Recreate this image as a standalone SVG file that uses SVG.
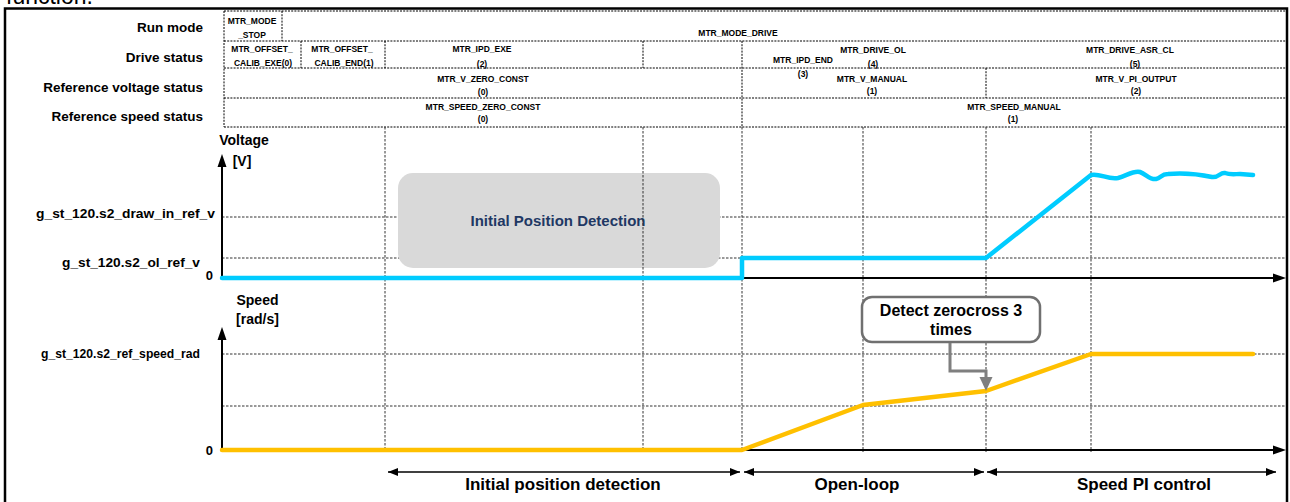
<svg xmlns="http://www.w3.org/2000/svg" width="1290" height="502" viewBox="0 0 1290 502">
<defs>
<style>
.txt{font-family:"Liberation Sans",Arial,sans-serif;font-weight:bold;fill:#000}
.cell{font-size:8.5px;text-anchor:middle}
.rowlbl{font-size:13.5px;text-anchor:end}
.axl{font-size:13px;text-anchor:end}
.unit{font-size:14px;text-anchor:middle}
.phase{font-size:17px;text-anchor:middle}
.tbl{fill:none;stroke:#000;stroke-width:1;stroke-dasharray:2 1.2}
.grid{fill:none;stroke:#333;stroke-width:1;stroke-dasharray:2.5 1.5}
.axis{fill:none;stroke:#000;stroke-width:2}
.dim{fill:none;stroke:#000;stroke-width:1.5}
</style>
<marker id="ah" viewBox="0 0 10 8" refX="10" refY="4" markerWidth="10" markerHeight="8" markerUnits="userSpaceOnUse" orient="auto-start-reverse">
<path d="M0,0L10,4L0,8Z" fill="#000"/>
</marker>
</defs>
<rect width="1290" height="502" fill="#fff"/>
<text x="6" y="3.5" font-family="Liberation Sans,Arial,sans-serif" font-size="23" fill="#000">function.</text>
<rect x="5" y="8.5" width="1282" height="510" fill="none" stroke="#000" stroke-width="2.5"/>

<g id="status-table">
<path class="tbl" d="M224,11H1286M224,41H1286M224,68H1286M224,98H1286M224,127H1286M224,11V127M282,11V41M301,41V68M385,41V68M643,41V68M742,41V127M986,68V98"/>
<g class="txt rowlbl">
<text x="203" y="32">Run mode</text>
<text x="203" y="62">Drive status</text>
<text x="203" y="92">Reference voltage status</text>
<text x="203" y="121">Reference speed status</text>
</g>
<g class="txt cell">
<text x="252" y="24">MTR_MODE</text>
<text x="252" y="37.5">_STOP</text>
<text x="738" y="35.5">MTR_MODE_DRIVE</text>
<text x="262" y="52">MTR_OFFSET_</text>
<text x="263" y="65.5">CALIB_EXE(0)</text>
<text x="342" y="52">MTR_OFFSET_</text>
<text x="344" y="65.5">CALIB_END(1)</text>
<text x="482" y="52">MTR_IPD_EXE</text>
<text x="482" y="66.5">(2)</text>
<text x="803" y="63">MTR_IPD_END</text>
<text x="803" y="77">(3)</text>
<text x="873" y="52.5">MTR_DRIVE_OL</text>
<text x="873" y="67">(4)</text>
<text x="1130" y="52.5">MTR_DRIVE_ASR_CL</text>
<text x="1135" y="67">(5)</text>
<text x="483" y="82">MTR_V_ZERO_CONST</text>
<text x="483" y="94.5">(0)</text>
<text x="872" y="82">MTR_V_MANUAL</text>
<text x="872" y="94">(1)</text>
<text x="1136" y="82">MTR_V_PI_OUTPUT</text>
<text x="1136" y="94">(2)</text>
<text x="483" y="110">MTR_SPEED_ZERO_CONST</text>
<text x="483" y="122">(0)</text>
<text x="1014" y="110">MTR_SPEED_MANUAL</text>
<text x="1013" y="122">(1)</text>
</g>
</g>

<g id="grid-horizontal">
<path class="grid" d="M222,217H1286M222,258H1286M222,354H1286M222,406H1286"/>
</g>

<g id="ipd-box">
<rect x="398" y="173" width="322" height="95" rx="15" fill="#d9d9d9"/>
<text class="txt" x="558" y="226" font-size="15" text-anchor="middle" style="fill:#1f3864">Initial Position Detection</text>
</g>

<g id="grid-vertical">
<path class="grid" d="M385,127V452M643,127V452M742,127V452M863,127V452M986,127V452M1091,127V452"/>
</g>

<g id="voltage-axes">
<path class="axis" d="M222,279V166M222,278H1274"/>
<path d="M222,154L217.5,167H226.5Z" fill="#000"/>
<path d="M1286,278L1273,273.5V282.5Z" fill="#000"/>
<text class="txt unit" x="244" y="145">Voltage</text>
<text class="txt unit" x="242" y="166">[V]</text>
<text class="txt axl" x="215" y="217.5" textLength="179" lengthAdjust="spacingAndGlyphs">g_st_120.s2_draw_in_ref_v</text>
<text class="txt axl" x="200" y="267" textLength="138" lengthAdjust="spacingAndGlyphs">g_st_120.s2_ol_ref_v</text>
<text class="txt axl" x="213" y="280">0</text>
</g>

<g id="speed-axes">
<path class="axis" d="M222,451V339M222,450H1274"/>
<path d="M222,327L217.5,340H226.5Z" fill="#000"/>
<path d="M1286,450L1273,445.5V454.5Z" fill="#000"/>
<text class="txt unit" x="257.5" y="305">Speed</text>
<text class="txt unit" x="257.5" y="324">[rad/s]</text>
<text class="txt axl" x="200" y="358" textLength="159" lengthAdjust="spacingAndGlyphs">g_st_120.s2_ref_speed_rad</text>
<text class="txt axl" x="213" y="455">0</text>
</g>

<g id="voltage-curve">
<path d="M222,278H742V258H986L1091,175C1100,173 1108,180 1118,178C1126,176 1134,170 1140,172C1146,174 1150,180 1156,179C1161,178 1161,174 1168,174C1180,173 1198,174 1212,177C1219,178 1220,172 1225,173C1230,175 1235,174 1240,174L1253,175" fill="none" stroke="#00ccff" stroke-width="4.5" stroke-linejoin="round" stroke-linecap="round"/>
</g>

<g id="speed-curve">
<polyline points="222,450 742,450 863,405 986,391 1091,354 1253,354" fill="none" stroke="#ffc000" stroke-width="4.5" stroke-linejoin="round" stroke-linecap="round"/>
</g>

<g id="zerocross-callout">
<rect x="862" y="297" width="178" height="45" rx="10" fill="#fff" stroke="#707070" stroke-width="2.5"/>
<text class="txt" x="951" y="315.5" font-size="16" text-anchor="middle">Detect zerocross 3</text>
<text class="txt" x="951" y="335" font-size="16" text-anchor="middle">times</text>
</g>

<g id="connectors">
<path d="M950,343V371H986V378" fill="none" stroke="#7f7f7f" stroke-width="3"/>
<path d="M979.5,377H992.5L986,391Z" fill="#7f7f7f"/>
<path class="dim" d="M388,472H740" marker-start="url(#ah)" marker-end="url(#ah)"/>
<path class="dim" d="M744,472H984" marker-start="url(#ah)" marker-end="url(#ah)"/>
<path class="dim" d="M987,472H1276" marker-start="url(#ah)" marker-end="url(#ah)"/>
</g>

<g id="phase-labels">
<text class="txt phase" x="563" y="490">Initial position detection</text>
<text class="txt phase" x="857" y="490">Open-loop</text>
<text class="txt phase" x="1144" y="490">Speed PI control</text>
</g>
</svg>
